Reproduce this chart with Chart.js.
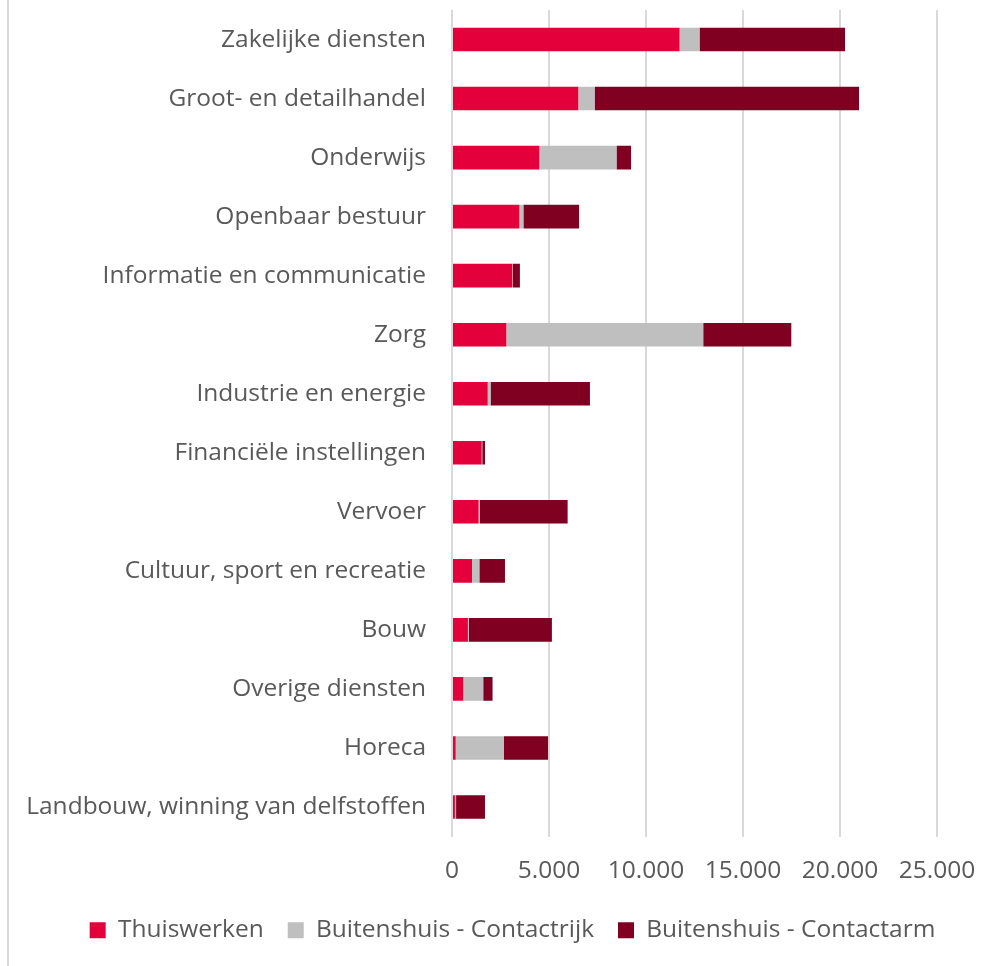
<!DOCTYPE html>
<html>
<head>
<meta charset="utf-8">
<script src="https://cdn.jsdelivr.net/npm/chart.js@4/dist/chart.umd.min.js"></script>
<style>
  body { margin: 0; background: #fff; }
  #wrap { position: relative; width: 981px; height: 966px; }
  #edge { position: absolute; left: 7px; top: 0; width: 2px; height: 966px; background: #d9d9d9; }
  canvas { position: absolute; left: 0; top: 0; }
</style>
</head>
<body>
<div id="wrap">
  <div id="edge"></div>
  <canvas id="chart" width="981" height="966"></canvas>
</div>
<script>
const categories = [
  'Zakelijke diensten',
  'Groot- en detailhandel',
  'Onderwijs',
  'Openbaar bestuur',
  'Informatie en communicatie',
  'Zorg',
  'Industrie en energie',
  'Financiële instellingen',
  'Vervoer',
  'Cultuur, sport en recreatie',
  'Bouw',
  'Overige diensten',
  'Horeca',
  'Landbouw, winning van delfstoffen'
];

const thuiswerken = [11730, 6510, 4500, 3470, 3110, 2800, 1840, 1530, 1370, 1030, 820, 580, 190, 150];
const contactrijk = [1030, 840, 3980, 210, 30, 10150, 150, 30, 70, 380, 40, 1030, 2490, 60];
const contactarm = [7500, 13630, 750, 2870, 360, 4540, 5120, 140, 4520, 1320, 4290, 480, 2270, 1490];

const xTicks = [0, 5000, 10000, 15000, 20000, 25000];

const textColor = '#595959';
const font = { family: '"Open Sans", "Noto Sans", sans-serif', size: 24.5 };

const fmt = (v) => v.toLocaleString('nl-NL');

// move the legend a bit to the right, like in the original
const legendShift = {
  id: 'legendShift',
  afterLayout(chart) {
    chart.legend.left += 44;
    chart.legend.right += 44;
  }
};

new Chart(document.getElementById('chart').getContext('2d'), {
  type: 'bar',
  data: {
    labels: categories,
    datasets: [
      { label: 'Thuiswerken', data: thuiswerken, backgroundColor: '#e4003a' },
      { label: 'Buitenshuis - Contactrijk', data: contactrijk, backgroundColor: '#bfbfbf' },
      { label: 'Buitenshuis - Contactarm', data: contactarm, backgroundColor: '#7f0020' }
    ]
  },
  options: {
    indexAxis: 'y',
    responsive: false,
    animation: false,
    categoryPercentage: 0.4,
    barPercentage: 1,
    layout: { padding: { top: 10, right: 44, bottom: 13.5, left: 0 } },
    scales: {
      x: {
        stacked: true,
        min: 0,
        max: 25000,
        afterBuildTicks: (scale) => { scale.ticks = xTicks.map((v) => ({ value: v })); },
        afterFit: (scale) => {
          scale.height = 57.5;
          scale.paddingLeft = 0;
          scale.paddingRight = 0;
        },
        grid: { color: '#d9d9d9', lineWidth: 2, drawTicks: false },
        border: { display: false },
        ticks: { color: textColor, font, padding: 20, callback: (v) => fmt(v), maxRotation: 0 }
      },
      y: {
        stacked: true,
        grid: { display: false, drawTicks: false },
        border: { display: false },
        afterFit: (scale) => {
          scale.width = 452;
          scale.paddingTop = 0;
          scale.paddingBottom = 0;
        },
        ticks: { color: textColor, font, padding: 26 }
      }
    },
    plugins: {
      legend: {
        position: 'bottom',
        labels: { color: textColor, font, boxWidth: 16, boxHeight: 16, padding: 24 }
      },
      tooltip: { enabled: false }
    }
  },
  plugins: [legendShift]
});
</script>
</body>
</html>
